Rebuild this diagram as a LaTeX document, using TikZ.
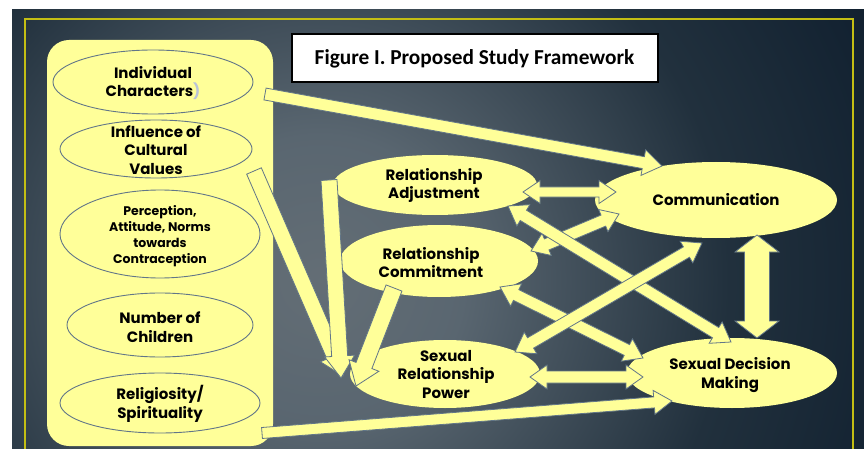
\documentclass[tikz,border=0pt]{standalone}
\usepackage{fontspec}
\usetikzlibrary{calc,shapes.geometric}
\newfontfamily\geofont{Poppins}
\newfontfamily\titlefont{Carlito}
\definecolor{pale}{RGB}{255,255,153}
\definecolor{edgeblue}{RGB}{98,118,136}
\definecolor{frameyel}{RGB}{195,190,20}
\definecolor{ghost}{RGB}{185,195,215}
\pgfdeclareradialshading{bgshade}{\pgfpoint{0bp}{0bp}}{rgb(0bp)=(0.39,0.43,0.46); rgb(6bp)=(0.35,0.40,0.44); rgb(17bp)=(0.13,0.19,0.24); rgb(25bp)=(0.07,0.13,0.19); rgb(50bp)=(0.07,0.13,0.19)}
\tikzset{
  blockarrow/.style={fill=pale, draw=edgeblue, line width=0.8pt, line join=miter},
  ringnode/.style={ellipse, draw=edgeblue, line width=0.9pt, inner sep=0pt},
  blobnode/.style={ellipse, fill=pale, inner sep=0pt},
  txt/.style={align=center, font=\geofont\bfseries\fontsize{15}{18.5}\selectfont, inner sep=0pt},
  smalltxt/.style={align=center, font=\geofont\bfseries\fontsize{12.5}{16}\selectfont, inner sep=0pt}
}
\newcommand\onearrow[5]{%
  \coordinate (fah) at ($(#2)!#5!(#1)$);
  \filldraw[blockarrow] ($(#1)!#3!90:(#2)$) -- ($(fah)!#3!-90:(#1)$) -- ($(fah)!#4!-90:(#1)$) -- (#2) -- ($(fah)!#4!90:(#1)$) -- ($(fah)!#3!90:(#1)$) -- ($(#1)!#3!-90:(#2)$) -- cycle;
}
\newcommand\twoarrow[5]{%
  \coordinate (fah) at ($(#2)!#5!(#1)$);
  \coordinate (fat) at ($(#1)!#5!(#2)$);
  \filldraw[blockarrow] (#1) -- ($(fat)!#4!90:(#2)$) -- ($(fat)!#3!90:(#2)$) -- ($(fah)!#3!-90:(#1)$) -- ($(fah)!#4!-90:(#1)$) -- (#2) -- ($(fah)!#4!90:(#1)$) -- ($(fah)!#3!90:(#1)$) -- ($(fat)!#3!-90:(#2)$) -- ($(fat)!#4!-90:(#2)$) -- cycle;
}
\begin{document}
\begin{tikzpicture}[x=1pt,y=-1pt]
\useasboundingbox[fill=white] (0,0) rectangle (864,449);
% background
\begin{scope}
  \clip (12,10) rectangle (864,449);
  \shade[shading=bgshade] (-280,-320) rectangle (920,880);
\end{scope}
\draw[frameyel, line width=1.8pt] (25,452) -- (25,19) -- (853,19) -- (853,452);
% left panel
\fill[pale, rounded corners=22pt] (47,40) rectangle (273,446);
% title
\node[draw=black, line width=2pt, fill=white, minimum width=366pt, minimum height=48pt, inner sep=0pt, font=\titlefont\bfseries\fontsize{21.3}{25}\selectfont] (title) at (474.5,58.5) {Figure I. Proposed Study Framework};
% left ellipses
\node[ringnode, minimum width=200pt, minimum height=64pt] (ind) at (153,82) {};
\node[ringnode, minimum width=192pt, minimum height=58pt] (cul) at (156,149) {};
\node[ringnode, minimum width=200pt, minimum height=88pt] (per) at (160,234) {};
\node[ringnode, minimum width=186pt, minimum height=64pt] (num) at (160,325) {};
\node[ringnode, minimum width=200pt, minimum height=60pt] (rel) at (160,403) {};
\node[txt] (indt) at (153,83) {Individual\\Characters\textcolor{ghost}{)}};
\node[txt] (cult) at (156,150) {Influence of\\Cultural\\Values};
\node[smalltxt] (pert) at (160,236) {Perception,\\Attitude, Norms\\towards\\Contraception};
\node[txt] (numt) at (160,327) {Number of\\Children};
\node[txt] (relt) at (160,404) {Religiosity/\\Spirituality};
% right ellipses
\node[blobnode, minimum width=204pt, minimum height=60pt] (ra) at (435,185) {};
\node[blobnode, minimum width=198pt, minimum height=72pt] (rc) at (439,261) {};
\node[blobnode, minimum width=190pt, minimum height=68pt] (srp) at (445,374) {};
\node[blobnode, minimum width=242pt, minimum height=76pt] (com) at (716,200) {};
\node[blobnode, minimum width=210pt, minimum height=70pt] (sdm) at (732,373) {};
\node[txt] (rat) at (434,185.5) {Relationship\\Adjustment};
\node[txt] (rct) at (431,262.5) {Relationship\\Commitment};
\node[txt] (srpt) at (446,374.5) {Sexual\\Relationship\\Power};
\node[txt] (comt) at (716,200) {Communication};
\node[txt] (sdmt) at (730,375) {Sexual Decision\\Making};
% arrow end points
\coordinate (a1s) at (265,94);   \coordinate (a1e) at (662,166);
\coordinate (a2s) at (254,171);  \coordinate (a2e) at (343,376);
\coordinate (a3s) at (329,180);  \coordinate (a3e) at (341,378);
\coordinate (a4s) at (394,288);  \coordinate (a4e) at (356,386);
\coordinate (a5s) at (523,192);  \coordinate (a5e) at (616,192);
\coordinate (a6s) at (531,251);  \coordinate (a6e) at (619,214);
\coordinate (a7s) at (508,206);  \coordinate (a7e) at (731,342);
\coordinate (a8s) at (500,287);  \coordinate (a8e) at (643,358);
\coordinate (a9s) at (515,352);  \coordinate (a9e) at (702,243);
\coordinate (a10s) at (530,377); \coordinate (a10e) at (643,377);
\coordinate (a11s) at (757,235); \coordinate (a11e) at (757,338);
\coordinate (a12s) at (262,433); \coordinate (a12e) at (672,401);
% arrows
\onearrow{a1s}{a1e}{6pt}{13pt}{19pt}
\onearrow{a12s}{a12e}{5.5pt}{12pt}{18pt}
\twoarrow{a5s}{a5e}{5pt}{11.5pt}{17pt}
\twoarrow{a6s}{a6e}{6pt}{12pt}{17pt}
\twoarrow{a8s}{a8e}{6pt}{12.5pt}{18pt}
\twoarrow{a7s}{a7e}{6pt}{12.5pt}{18pt}
\twoarrow{a9s}{a9e}{6pt}{12.5pt}{18pt}
\twoarrow{a10s}{a10e}{6pt}{12pt}{17pt}
\twoarrow{a11s}{a11e}{12.5pt}{22pt}{17pt}
\onearrow{a2s}{a2e}{8pt}{15pt}{22pt}
\onearrow{a3s}{a3e}{8pt}{15pt}{22pt}
\onearrow{a4s}{a4e}{8.5pt}{16pt}{22pt}
\end{tikzpicture}
\end{document}
